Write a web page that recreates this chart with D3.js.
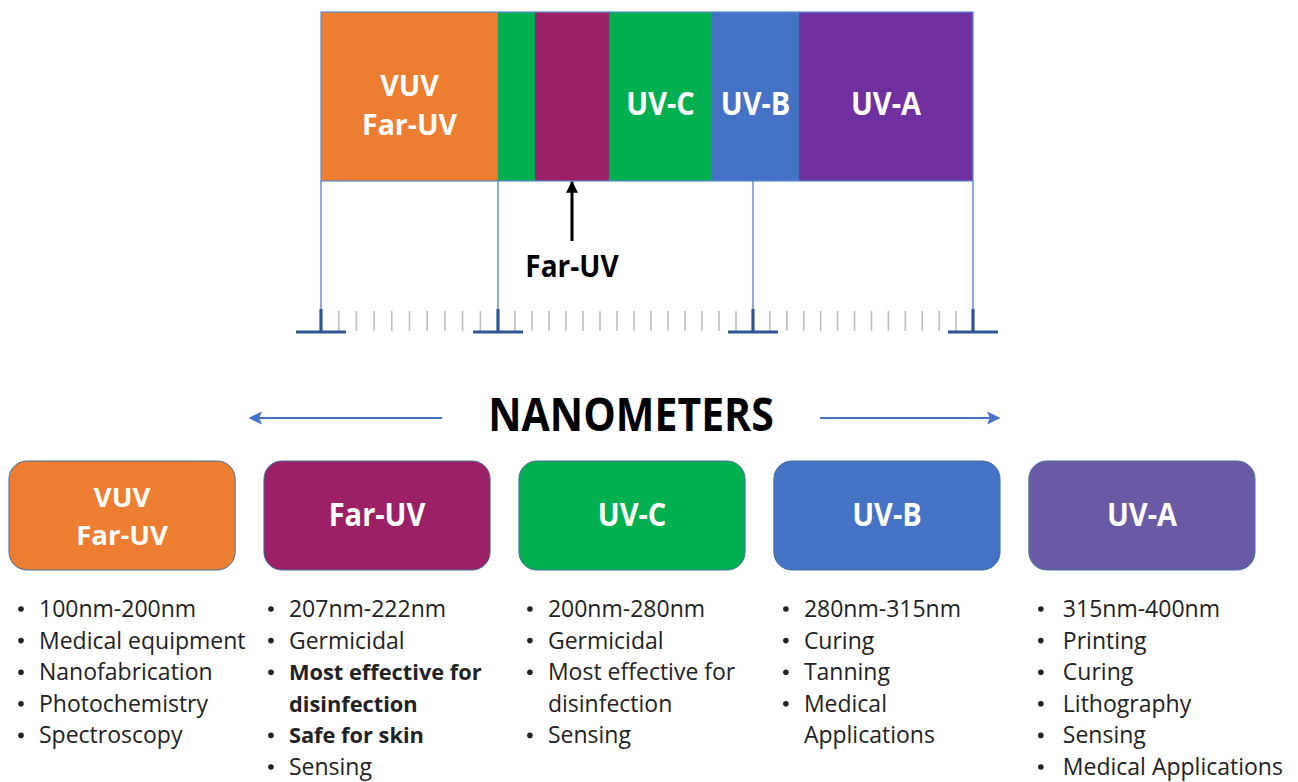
<!DOCTYPE html>
<html>
<head>
<meta charset="utf-8">
<script src="https://cdn.jsdelivr.net/npm/d3@7"></script>
<style>
  html, body { margin: 0; padding: 0; background: #fff; }
  svg { display: block; }
  text { font-family: "Open Sans", "Noto Sans", sans-serif; }
</style>
</head>
<body>
<svg id="chart" width="1298" height="782"></svg>
<script>
// ---------- DATA ----------
// Top spectrum bar (schematic, relative widths)
const bandLabels = [["VUV", "Far-UV"], [], [], ["UV-C"], ["UV-B"], ["UV-A"]];
const bandSpans  = [177, 37, 74, 103, 87, 174];
const bandColors = ["#ED7D31", "#00B050", "#9C2066", "#00B050", "#4472C4", "#7030A0"];
const farUvBandIndex = 2;

// Ruler: major markers (cumulative schematic units) and minor subdivisions between them
const markerUnits = [0, 177, 432, 652];
const minorDivisions = [10, 15, 13];

const axisTitle = "NANOMETERS";
const arrowLabel = "Far-UV";

// Category boxes
const categories = [["VUV", "Far-UV"], ["Far-UV"], ["UV-C"], ["UV-B"], ["UV-A"]];
const categoryColors = ["#ED7D31", "#9C2066", "#00B050", "#4472C4", "#6A5AA5"];

// Bullet lists (each item: lines, bold)
const bullets1 = [
  { lines: ["100nm-200nm"] },
  { lines: ["Medical equipment"] },
  { lines: ["Nanofabrication"] },
  { lines: ["Photochemistry"] },
  { lines: ["Spectroscopy"] }
];
const bullets2 = [
  { lines: ["207nm-222nm"] },
  { lines: ["Germicidal"] },
  { lines: ["Most effective for", "disinfection"], bold: true },
  { lines: ["Safe for skin"], bold: true },
  { lines: ["Sensing"] }
];
const bullets3 = [
  { lines: ["200nm-280nm"] },
  { lines: ["Germicidal"] },
  { lines: ["Most effective for", "disinfection"] },
  { lines: ["Sensing"] }
];
const bullets4 = [
  { lines: ["280nm-315nm"] },
  { lines: ["Curing"] },
  { lines: ["Tanning"] },
  { lines: ["Medical", "Applications"] }
];
const bullets5 = [
  { lines: ["315nm-400nm"] },
  { lines: ["Printing"] },
  { lines: ["Curing"] },
  { lines: ["Lithography"] },
  { lines: ["Sensing"] },
  { lines: ["Medical Applications"] }
];
const bulletLists = [bullets1, bullets2, bullets3, bullets4, bullets5];

// ---------- DRAW ----------
const svg = d3.select("#chart");

const totalUnits = d3.sum(bandSpans);
const x = d3.scaleLinear().domain([0, totalUnits]).range([321, 973]);

const barTop = 12, barBottom = 181;
const cum = d3.cumsum([0, ...bandSpans]);
const bands = bandSpans.map((s, i) => ({ x0: cum[i], x1: cum[i] + s, color: bandColors[i], label: bandLabels[i] }));

const gBar = svg.append("g");
gBar.selectAll("rect.band").data(bands).join("rect")
  .attr("class", "band")
  .attr("x", d => x(d.x0)).attr("y", barTop)
  .attr("width", d => x(d.x1) - x(d.x0)).attr("height", barBottom - barTop)
  .attr("fill", d => d.color);
gBar.selectAll("line.sep").data(bands.slice(1)).join("line")
  .attr("x1", d => x(d.x0)).attr("x2", d => x(d.x0))
  .attr("y1", barTop).attr("y2", barBottom)
  .attr("stroke", "#41719C").attr("stroke-width", 0.6).attr("stroke-opacity", 0.6);
gBar.append("rect")
  .attr("x", x(0)).attr("y", barTop)
  .attr("width", x(totalUnits) - x(0)).attr("height", barBottom - barTop)
  .attr("fill", "none").attr("stroke", "#5B8BD6").attr("stroke-width", 1.2);

// band labels
bands.forEach(b => {
  const n = b.label.length;
  if (!n) return;
  const cx = (x(b.x0) + x(b.x1)) / 2;
  b.label.forEach((l, i) => {
    const by = n === 1 ? 115 : 96 + i * 39;
    gBar.append("text")
      .attr("transform", n === 1 ? `translate(${cx},${by}) scale(1,1.1)` : `translate(${cx},${by})`)
      .attr("text-anchor", "middle")
      .attr("fill", "#fff").attr("font-weight", 700).attr("font-size", n === 1 ? 29 : 28.5)
      .text(l);
  });
});

// Vertical connector lines from bar to ruler markers
const rulerY = 331;
svg.selectAll("line.conn").data(markerUnits).join("line")
  .attr("class", "conn")
  .attr("x1", d => x(d)).attr("x2", d => x(d))
  .attr("y1", barBottom).attr("y2", 310)
  .attr("stroke", "#4472C4").attr("stroke-width", 1.2);

// Minor ruler ticks
const minorTicks = [];
minorDivisions.forEach((n, i) => {
  const a = markerUnits[i], b = markerUnits[i + 1];
  d3.range(1, n).forEach(k => minorTicks.push(a + (b - a) * k / n));
});
svg.selectAll("line.minor").data(minorTicks).join("line")
  .attr("class", "minor")
  .attr("x1", d => x(d)).attr("x2", d => x(d))
  .attr("y1", 311).attr("y2", rulerY)
  .attr("stroke", "#BFBFBF").attr("stroke-width", 1.6);

// Major T markers
const gMaj = svg.selectAll("g.major").data(markerUnits).join("g").attr("class", "major");
gMaj.append("line")
  .attr("x1", d => x(d)).attr("x2", d => x(d))
  .attr("y1", 309).attr("y2", rulerY)
  .attr("stroke", "#2F5597").attr("stroke-width", 3.2);
gMaj.append("line")
  .attr("x1", d => x(d) - 25).attr("x2", d => x(d) + 25)
  .attr("y1", rulerY + 1).attr("y2", rulerY + 1)
  .attr("stroke", "#2F5597").attr("stroke-width", 3.2);

// Arrow markers
const defs = svg.append("defs");
defs.append("marker").attr("id", "blackHead")
  .attr("viewBox", "0 0 10 10").attr("refX", 9).attr("refY", 5)
  .attr("markerWidth", 4.5).attr("markerHeight", 4).attr("orient", "auto")
  .append("path").attr("d", "M0,0 L10,5 L0,10 z").attr("fill", "#000");
defs.append("marker").attr("id", "blueHead")
  .attr("viewBox", "0 0 10 10").attr("refX", 9).attr("refY", 5)
  .attr("markerWidth", 6).attr("markerHeight", 6).attr("orient", "auto")
  .append("path").attr("d", "M0,0 L10,5 L0,10 L2,5 z").attr("fill", "#4472C4");

// Far-UV arrow
const fb = bands[farUvBandIndex];
const fx = (x(fb.x0) + x(fb.x1)) / 2;
svg.append("line")
  .attr("x1", fx).attr("x2", fx).attr("y1", 241).attr("y2", 182)
  .attr("stroke", "#000").attr("stroke-width", 3)
  .attr("marker-end", "url(#blackHead)");
svg.append("text")
  .attr("transform", `translate(${fx},277) scale(1,1.1)`)
  .attr("text-anchor", "middle")
  .attr("font-weight", 700).attr("font-size", 28).attr("fill", "#000")
  .text(arrowLabel);

// NANOMETERS title with arrows
svg.append("text")
  .attr("transform", "translate(631,431) scale(1,1.12)")
  .attr("text-anchor", "middle")
  .attr("font-weight", 700).attr("font-size", 41).attr("fill", "#000")
  .text(axisTitle);
svg.append("line")
  .attr("x1", 442).attr("x2", 250).attr("y1", 418).attr("y2", 418)
  .attr("stroke", "#4472C4").attr("stroke-width", 2.2)
  .attr("marker-end", "url(#blueHead)");
svg.append("line")
  .attr("x1", 820).attr("x2", 999).attr("y1", 418).attr("y2", 418)
  .attr("stroke", "#4472C4").attr("stroke-width", 2.2)
  .attr("marker-end", "url(#blueHead)");

// Category boxes
const xb = d3.scaleBand().domain(d3.range(categories.length)).range([9, 1255]).paddingInner(0.113).paddingOuter(0);
const boxTop = 461, boxH = 109;
const gBox = svg.selectAll("g.box").data(categories).join("g").attr("class", "box");
gBox.append("rect")
  .attr("x", (d, i) => xb(i)).attr("y", boxTop)
  .attr("width", xb.bandwidth()).attr("height", boxH)
  .attr("rx", 18).attr("ry", 18)
  .attr("fill", (d, i) => categoryColors[i])
  .attr("stroke", "#41719C").attr("stroke-width", 1);
gBox.each(function(d, i) {
  const cx = xb(i) + xb.bandwidth() / 2;
  const g = d3.select(this);
  d.forEach((l, j) => {
    const by = d.length === 1 ? 526 : 507 + j * 38;
    g.append("text")
      .attr("transform", d.length === 1 ? `translate(${cx},${by}) scale(1,1.08)` : `translate(${cx},${by})`)
      .attr("text-anchor", "middle").attr("fill", "#fff")
      .attr("font-weight", 700).attr("font-size", d.length === 1 ? 29 : 27.5)
      .text(l);
  });
});

// Bullet lists
const bulletIndent = [9, 4, 8, 9, 9];
const textIndent = [30, 25, 29, 30, 34];
const lineH = 31.6, firstBase = 617;
bulletLists.forEach((list, i) => {
  const bx = xb(i) + bulletIndent[i], tx = xb(i) + textIndent[i];
  let row = 0;
  const g = svg.append("g");
  list.forEach(item => {
    g.append("circle")
      .attr("cx", bx + 3).attr("cy", firstBase + row * lineH - 8)
      .attr("r", 2.8).attr("fill", "#222");
    item.lines.forEach(l => {
      g.append("text")
        .attr("x", tx).attr("y", firstBase + row * lineH)
        .attr("font-size", item.bold ? 21.8 : 23)
        .attr("font-weight", item.bold ? 700 : 400)
        .attr("fill", "#222")
        .text(l);
      row++;
    });
  });
});
</script>
</body>
</html>
